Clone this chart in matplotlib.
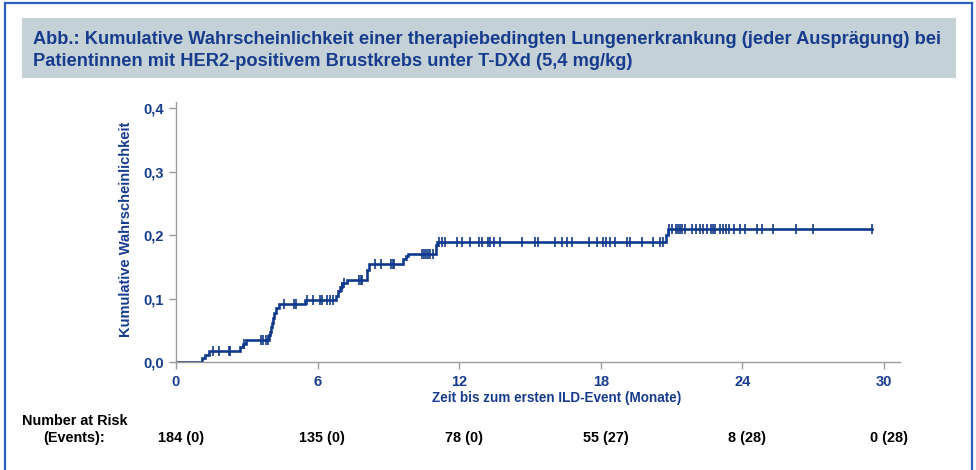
import numpy as np
import matplotlib
matplotlib.use("Agg")
import matplotlib.pyplot as plt
from matplotlib.patches import Rectangle
from matplotlib.lines import Line2D
import matplotlib.transforms as mtransforms

# Kaplan-Meier style cumulative incidence
event_t = [0, 1.1, 1.25, 1.4, 2.7, 2.82, 2.95, 3.92, 3.98, 4.03, 4.08, 4.12, 4.17,
           4.25, 4.35, 5.47, 6.8, 6.88, 6.95, 7.05, 7.23, 8.08, 8.19, 9.63, 9.74,
           9.84, 11.0, 11.07, 20.76, 20.85]
event_p = [0, 0.006, 0.011, 0.017, 0.023, 0.029, 0.035, 0.042, 0.048, 0.055, 0.062,
           0.069, 0.077, 0.085, 0.091, 0.098, 0.104, 0.112, 0.119, 0.124, 0.129,
           0.145, 0.154, 0.163, 0.167, 0.171, 0.184, 0.190, 0.200, 0.209]
censor_t = [1.55, 1.84, 2.26, 2.29, 2.9, 3.6, 3.67, 3.81, 3.88, 4.58, 5.0, 5.08,
            5.54, 5.82, 6.1, 6.17, 6.38, 6.53, 6.64, 7.02, 7.12, 7.77, 7.84, 7.9,
            8.43, 8.69, 9.1, 9.18, 9.24, 10.41, 10.5, 10.6, 10.69, 10.78, 10.9,
            11.16, 11.26, 11.4, 11.89, 12.1, 12.46, 12.85, 12.95, 13.23, 13.31,
            13.47, 13.73, 14.65, 15.21, 15.35, 16.06, 16.34, 16.55, 16.77, 17.51,
            17.83, 18.11, 18.21, 18.39, 18.6, 19.1, 19.24, 19.73, 20.22, 20.51,
            20.62, 20.9, 21.0, 21.19, 21.28, 21.36, 21.43, 21.57, 21.85, 22.03,
            22.2, 22.34, 22.49, 22.66, 22.74, 22.84, 23.05, 23.19, 23.31, 23.45,
            23.64, 23.9, 24.11, 24.6, 24.82, 25.31, 26.27, 26.98, 29.48]
end_t = 29.48

x_ticks = [0, 6, 12, 18, 24, 30]
y_ticks = [0, 0.1, 0.2, 0.3, 0.4]
y_tick_labels = ["0,0", "0,1", "0,2", "0,3", "0,4"]
risk_labels = ["184 (0)", "135 (0)", "78 (0)", "55 (27)", "8 (28)", "0 (28)"]

title_lines = ["Abb.: Kumulative Wahrscheinlichkeit einer therapiebedingten Lungenerkrankung (jeder Ausprägung) bei",
               "Patientinnen mit HER2-positivem Brustkrebs unter T-DXd (5,4 mg/kg)"]

BLUE = "#173c8e"
LINE = "#0f3a8c"
plt.rcParams["font.family"] = ["Liberation Sans", "DejaVu Sans"]

W, H = 976, 470
fig = plt.figure(figsize=(W / 100, H / 100), dpi=100)
renderer = fig.canvas.get_renderer()


def fit_width(txt, target_px):
    # shrink/grow a text so it spans target_px, like the condensed original
    w = txt.get_window_extent(renderer=renderer).width
    txt.set_fontsize(txt.get_fontsize() * target_px / w)
    return txt


# outer frame
for xs, ys in [([5, 5], [0, 467]), ([5, 972], [467, 467]), ([972, 972], [0, 467])]:
    fig.add_artist(Line2D([x / W for x in xs], [y / H for y in ys],
                          color="#2d5fc0", lw=1.6))

# title box
fig.add_artist(Rectangle((22 / W, 1 - 78 / H), (956 - 22) / W, 60 / H,
                         facecolor="#c4d2d7", edgecolor="none"))
t1 = fig.text(33 / W, 1 - 40 / H, title_lines[0], color=BLUE, fontsize=13,
              fontweight="bold", va="center", ha="left")
fit_width(t1, 905)
fig.text(33 / W, 1 - 61 / H, title_lines[1], color=BLUE, fontsize=t1.get_fontsize(),
         fontweight="bold", va="center", ha="left")

ax = fig.add_axes([176 / W, 1 - 362 / H, 724 / W, 260 / H])
ax.set_xlim(0, 30.68)
ax.set_ylim(0, 0.41)

xs = list(event_t) + [end_t]
ys = list(event_p) + [event_p[-1]]
ax.step(xs, ys, where="post", color=LINE, lw=1.9, solid_joinstyle="miter")
idx = np.searchsorted(event_t, censor_t, side="right") - 1
ax.plot(censor_t, np.array(event_p)[idx], ls="none", marker="|",
        ms=6.5, mew=1.2, color=LINE)

for s in ["top", "right"]:
    ax.spines[s].set_visible(False)
for s in ["left", "bottom"]:
    ax.spines[s].set_color("#9a9a9a")
    ax.spines[s].set_linewidth(1.0)

ax.set_xticks(x_ticks)
ax.set_xticklabels([str(t) for t in x_ticks])
ax.set_yticks(y_ticks)
ax.set_yticklabels(y_tick_labels)
ax.tick_params(colors="#9a9a9a", length=5, width=1.0, pad=4)
for lab in ax.get_xticklabels() + ax.get_yticklabels():
    lab.set_color(BLUE)
    lab.set_fontweight("bold")
    lab.set_fontsize(10.5)

yl = fig.text(126 / W, 1 - 229 / H, "Kumulative Wahrscheinlichkeit", color=BLUE,
              fontweight="bold", fontsize=10.5, ha="center", va="center", rotation=90)
w = yl.get_window_extent(renderer=renderer).height
yl.set_fontsize(yl.get_fontsize() * 215 / w)
xl = fig.text(557 / W, 1 - 398 / H, "Zeit bis zum ersten ILD-Event (Monate)", color=BLUE,
              fontweight="bold", fontsize=10.5, ha="center", va="center")
fit_width(xl, 251)

# number at risk table
nr = fig.text(22 / W, 1 - 421 / H, "Number at Risk", fontweight="bold", fontsize=10.5,
              ha="left", va="center", color="black")
fit_width(nr, 106)
fig.text(43 / W, 1 - 438 / H, "(Events):", fontweight="bold", fontsize=nr.get_fontsize(),
         ha="left", va="center", color="black")
trans = mtransforms.blended_transform_factory(ax.transData, fig.transFigure)
for t, lab in zip(x_ticks, risk_labels):
    ax.text(t + 0.2, 1 - 438 / H, lab, transform=trans, fontweight="bold",
            fontsize=nr.get_fontsize(), ha="center", va="center", color="black",
            clip_on=False)

fig.savefig("out.png", dpi=100)
